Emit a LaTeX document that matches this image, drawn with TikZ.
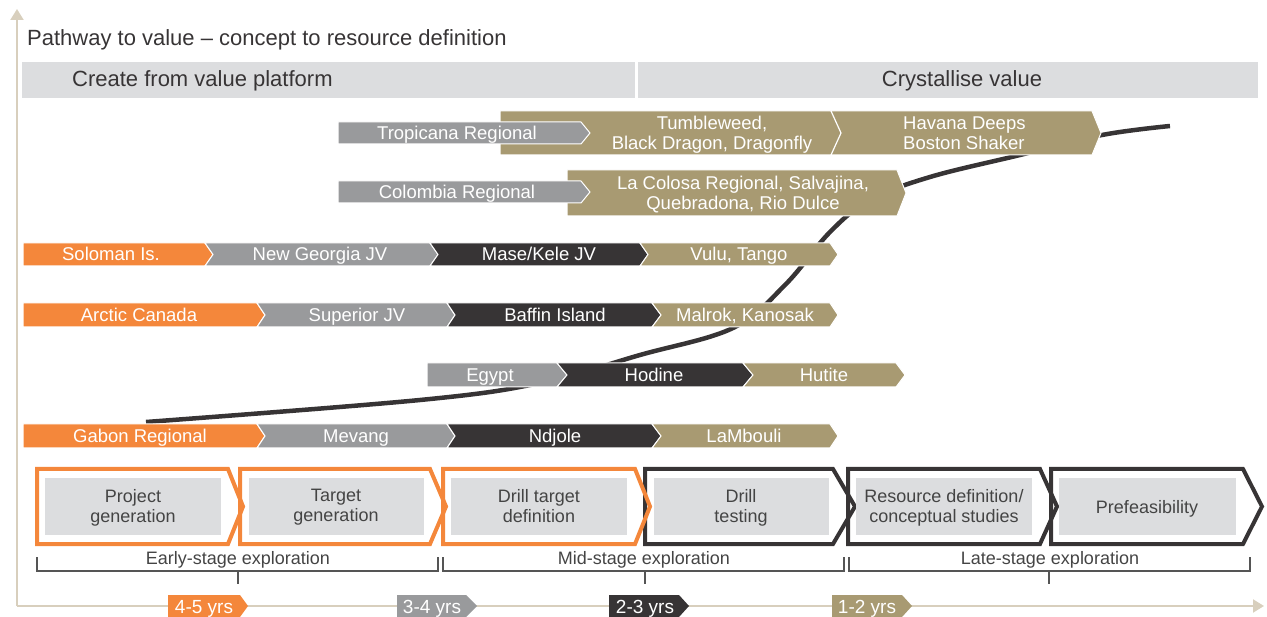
\documentclass[tikz,border=0pt]{standalone}
\usepackage{fontspec}
\setmainfont{Liberation Sans}
\usetikzlibrary{arrows.meta}

\definecolor{cOrange}{HTML}{F4873B}
\definecolor{cGrey}{HTML}{999A9C}
\definecolor{cDark}{HTML}{373435}
\definecolor{cTan}{HTML}{A89A72}
\definecolor{cBand}{HTML}{DCDDDF}
\definecolor{cAxis}{HTML}{D8CFBD}
\definecolor{cText}{HTML}{444444}
\definecolor{cBracket}{HTML}{555555}

% chevron: #1 fill, #2 left x, #3 corner x, #4 tip x, #5 notch depth, #6 top y, #7 bottom y
\newcommand{\chev}[7]{%
  \path[fill=#1,draw=white,line width=1pt,line join=miter]
    (#2,#6) -- (#3,#6) -- (#4,{(#6+#7)/2}) -- (#3,#7) -- (#2,#7)
    -- ({#2+#5},{(#6+#7)/2}) -- cycle;}
% plain chevron for the year tags
\newcommand{\tag}[6]{%
  \path[fill=#1] (#2,#5) -- (#3,#5) -- (#4,{(#5+#6)/2}) -- (#3,#6) -- (#2,#6) -- cycle;}
% outlined stage box: #1 colour, #2 left, #3 corner, #4 tip
\newcommand{\stagebox}[4]{%
  \draw[#1,line width=4pt,line join=miter,miter limit=10]
    (#2,469) -- (#3,469) -- (#4,506.5) -- (#3,544) -- (#2,544) -- cycle;}

\begin{document}
\begin{tikzpicture}[x=1pt,y=-1pt,
  struts/.style={execute at begin node=\strut,execute at end node=\strut},
  lbl/.style={text=white,font=\fontsize{18.5}{20}\selectfont,inner sep=0pt,align=center},
  lbl2/.style={lbl,struts},
  lbl1/.style={lbl,anchor=base},
  stagetxt/.style={text=cText,font=\fontsize{18}{20}\selectfont,inner sep=0pt,align=center,struts},
  phasetxt/.style={text=cText,font=\fontsize{18}{20}\selectfont,inner sep=0pt,anchor=base},
  yrs/.style={text=white,font=\fontsize{19}{20}\selectfont,inner sep=0pt,anchor=base},
  head/.style={text=cDark,font=\fontsize{22}{24}\selectfont,inner sep=0pt,anchor=base},
  inner/.style={fill=cBand},
  bracket/.style={draw=cBracket,line width=1.1pt},
  axis/.style={draw=cAxis,line width=2pt},
  curve/.style={draw=cDark,line width=4.5pt}]
\useasboundingbox (0,0) rectangle (1267,617);

% axes
\coordinate (origin) at (17,606);
\coordinate (yend) at (17,9);
\coordinate (xend) at (1264,606);
\draw[axis,-{Triangle[width=13pt,length=11pt]}] (origin) -- (yend);
\draw[axis,-{Triangle[width=13pt,length=11pt]}] (origin) -- (xend);

% title and header bands
\node[head,anchor=base west,font=\fontsize{22}{24}\selectfont] (title) at (27,46)
  {Pathway to value -- concept to resource definition};
\fill[cBand] (22,62) rectangle (635,98);
\fill[cBand] (638,62) rectangle (1258,98);
\node[head,anchor=base west] (create) at (72,87) {Create from value platform};
\node[head] (cryst) at (962,87) {Crystallise value};

% value curve, running behind the project arrows
\draw[curve] plot[smooth,tension=0.6] coordinates
  {(146,422) (420,400) (540,383) (640,355) (733,328) (785,285) (830,232)
   (870,200) (930,177) (1020,155) (1102,135) (1170,126)};

% row 1: Tropicana
\chev{cTan}{500}{1092}{1101}{0}{111}{155}
\draw[white,line width=1.2pt] (831,111) -- (841,133) -- (831,155);
\chev{cGrey}{338}{581}{590}{0}{122}{144}
\node[lbl1] (tropicana) at (457,139.5) {Tropicana Regional};
\node[lbl2] (tumble) at (712,136) {Tumbleweed,\\Black Dragon, Dragonfly};
\node[lbl2,align=left,anchor=west] (havana) at (903,136) {Havana Deeps\\Boston Shaker};

% row 2: Colombia
\chev{cTan}{567}{897}{906}{0}{170}{216}
\chev{cGrey}{338}{581}{590}{0}{181}{203}
\node[lbl1] (colombia) at (457,198.5) {Colombia Regional};
\node[lbl2] (colosa) at (743,196) {La Colosa Regional, Salvajina,\\Quebradona, Rio Dulce};

% row 3: Solomon Islands
\chev{cOrange}{23}{205}{213}{0}{243}{266}
\chev{cGrey}{205}{430}{438}{8}{243}{266}
\chev{cDark}{430}{640}{648}{8}{243}{266}
\chev{cTan}{640}{830}{838}{8}{243}{266}
\node[lbl1] (soloman) at (111,261) {Soloman Is.};
\node[lbl1] (newgeorgia) at (320,261) {New Georgia JV};
\node[lbl1] (masekele) at (539,261) {Mase/Kele JV};
\node[lbl1] (vulu) at (739,261) {Vulu, Tango};

% row 4: Arctic Canada
\chev{cOrange}{23}{257}{265}{0}{303}{327}
\chev{cGrey}{257}{447}{455}{8}{303}{327}
\chev{cDark}{447}{652}{661}{8}{303}{327}
\chev{cTan}{652}{830}{838}{9}{303}{327}
\node[lbl1] (arctic) at (139,321.5) {Arctic Canada};
\node[lbl1] (superior) at (357,321.5) {Superior JV};
\node[lbl1] (baffin) at (555,321.5) {Baffin Island};
\node[lbl1] (malrok) at (745,321.5) {Malrok, Kanosak};

% row 5: Egypt
\chev{cGrey}{427}{557}{567}{0}{363}{387}
\chev{cDark}{557}{743}{753}{10}{363}{387}
\chev{cTan}{743}{896}{905}{10}{363}{387}
\node[lbl1] (egypt) at (490,381.5) {Egypt};
\node[lbl1] (hodine) at (654,381.5) {Hodine};
\node[lbl1] (hutite) at (824,381.5) {Hutite};

% row 6: Gabon
\chev{cOrange}{23}{257}{265}{0}{424}{448}
\chev{cGrey}{257}{447}{455}{8}{424}{448}
\chev{cDark}{447}{652}{661}{8}{424}{448}
\chev{cTan}{652}{830}{838}{9}{424}{448}
\node[lbl1] (gabon) at (140,442.5) {Gabon Regional};
\node[lbl1] (mevang) at (356,442.5) {Mevang};
\node[lbl1] (ndjole) at (555,442.5) {Ndjole};
\node[lbl1] (lambouli) at (744,442.5) {LaMbouli};

% exploration stages
\stagebox{cOrange}{37}{228}{243}
\stagebox{cOrange}{240}{430}{446}
\stagebox{cDark}{645}{833}{855}
\stagebox{cOrange}{443}{635}{650}
\stagebox{cDark}{848}{1040}{1057}
\stagebox{cDark}{1051}{1243}{1262}
\fill[inner] (45,478) rectangle (221,535);
\fill[inner] (249,478) rectangle (424,535);
\fill[inner] (451,478) rectangle (627,535);
\fill[inner] (654,478) rectangle (829,535);
\fill[inner] (856,478) rectangle (1032,535);
\fill[inner] (1059,478) rectangle (1236,535);
\node[stagetxt] (projgen) at (133,508.5) {Project\\generation};
\node[stagetxt] (targen) at (336,508.5) {Target\\generation};
\node[stagetxt] (drilldef) at (539,508.5) {Drill target\\definition};
\node[stagetxt] (drilltest) at (741,508.5) {Drill\\testing};
\node[stagetxt] (resdef) at (944,508.5) {Resource definition/\\conceptual studies};
\node[stagetxt,struts/.style={},anchor=base] (prefeas) at (1147,513) {Prefeasibility};

% phase brackets
\draw[bracket] (37,557) -- (37,571) -- (438,571) -- (438,557);
\draw[bracket] (238,571) -- (238,584);
\draw[bracket] (443,557) -- (443,571) -- (844,571) -- (844,557);
\draw[bracket] (645,571) -- (645,584);
\draw[bracket] (849,557) -- (849,571) -- (1250,571) -- (1250,557);
\draw[bracket] (1049,571) -- (1049,584);
\node[phasetxt] (early) at (238,564) {Early-stage exploration};
\node[phasetxt] (mid) at (644,564) {Mid-stage exploration};
\node[phasetxt] (late) at (1050,564) {Late-stage exploration};

% time tags on the horizontal axis
\tag{cOrange}{168}{240}{248}{595}{617}
\tag{cGrey}{397}{466}{477}{595}{617}
\tag{cDark}{609}{679}{689}{595}{617}
\tag{cTan}{832}{902}{912}{595}{617}
\node[yrs] (y45) at (204,613) {4-5 yrs};
\node[yrs] (y34) at (432,613) {3-4 yrs};
\node[yrs] (y23) at (645,613) {2-3 yrs};
\node[yrs] (y12) at (867,613) {1-2 yrs};
\end{tikzpicture}
\end{document}
